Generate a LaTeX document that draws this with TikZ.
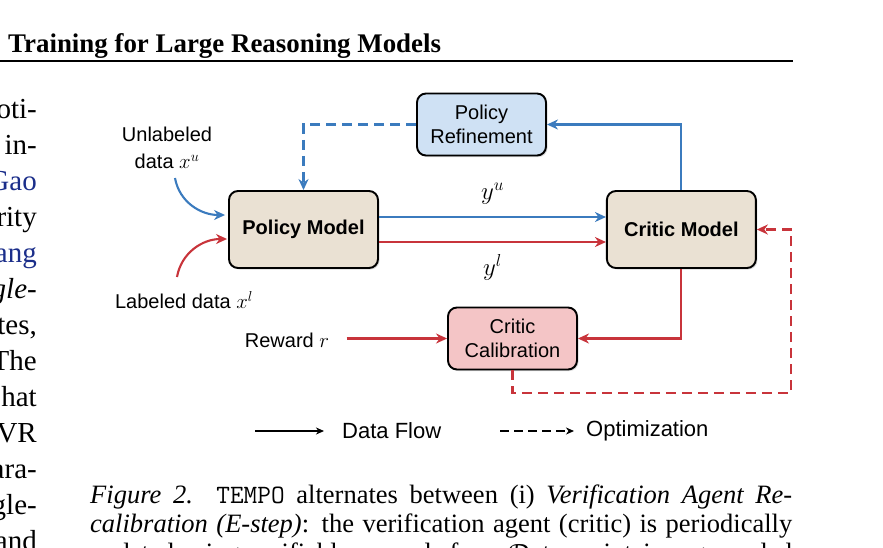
\documentclass[tikz,border=0pt]{standalone}
\usepackage{fontspec}
\setmainfont{Liberation Serif}
\setsansfont{Liberation Sans}
\usepackage{tikz}
\usetikzlibrary{arrows.meta, positioning, calc, shadows}

\definecolor{flowblue}{HTML}{3B7BBE}
\definecolor{flowred}{HTML}{C8343B}
\definecolor{modelfill}{HTML}{EAE1D3}
\definecolor{refinefill}{HTML}{CFE1F4}
\definecolor{calibfill}{HTML}{F4C5C6}
\definecolor{citeblue}{HTML}{1B2E8A}

\begin{document}
\begin{tikzpicture}[x=1pt, y=1pt,
  model/.style={rectangle, draw, line width=1.9pt, rounded corners=9pt,
                minimum width=149pt, minimum height=77pt, align=center,
                font=\sffamily\bfseries\fontsize{20}{24}\selectfont, fill=modelfill,
                drop shadow={shadow xshift=1.5pt, shadow yshift=-1.5pt, opacity=0.3}},
  stage/.style={rectangle, draw, line width=1.9pt, rounded corners=9pt,
                minimum width=129pt, minimum height=62pt, align=center,
                font=\sffamily\fontsize{20}{24}\selectfont,
                drop shadow={shadow xshift=1.5pt, shadow yshift=-1.5pt, opacity=0.3}},
  inlabel/.style={align=center, font=\sffamily\fontsize{20}{27}\selectfont},
  flowlabel/.style={font=\fontsize{23}{27}\selectfont},
  legtext/.style={anchor=west, inner sep=0pt, font=\sffamily\fontsize{22}{26}\selectfont},
  tip/.style={-{Stealth[length=11pt, width=10pt, inset=3.5pt]}},
  bluearrow/.style={tip, line width=2.1pt, draw=flowblue},
  redarrow/.style={tip, line width=2.1pt, draw=flowred},
  optdash/.style={dash pattern=on 10pt off 6pt},
  bodytext/.style={anchor=base east, inner sep=0pt, font=\fontsize{29}{36}\selectfont},
  captext/.style={anchor=base west, inner sep=0pt, font=\fontsize{26.5}{29}\selectfont}
]
\useasboundingbox (0,0) rectangle (883,-547);

%% --- page header and left column ---
\node[anchor=base west, inner sep=0pt, font=\bfseries\fontsize{26.9}{30}\selectfont]
    (header) at (8,-52) {Training for Large Reasoning Models};
\draw[line width=2.6pt] (0,-61) -- (793,-61);
\foreach \frag [count=\i from 0] in {oti-, in-, {\textcolor{citeblue}{Gao}}, rity,
    {\textcolor{citeblue}{ang}}, {\textit{gle-}}, {tes,}, The, hat, VR, ara-, gle-, and}
  \node[bodytext] (frag\i) at (37,{-118-36*\i}) {\frag};

%% --- boxes ---
\node[model] (policy) at (303.5,-229.5) {Policy Model};
\node[model, right=227pt of policy] (critic) {Critic Model};
\node[stage, fill=refinefill] (refine) at (481.5,-124.5) {Policy\\Refinement};
\node[stage, fill=calibfill] (calib) at (512.5,-338.5) {Critic\\Calibration};

%% --- inputs (left) ---
\node[inlabel] (unlab) at (167,-148) {Unlabeled\\data $x^u$};
\node[inlabel] (lab) at (184,-300) {Labeled data $x^l$};
\node[inlabel] (reward) at (287,-340) {Reward $r$};
\coordinate (ustart) at (175,-178);
\coordinate (lstart) at (177,-277);

\draw[bluearrow] (ustart) to[out=-80, in=180] ($(policy.west)+(-3,14.5)$);
\draw[redarrow] (lstart) to[out=80, in=180] ($(policy.west)+(-1,-9.5)$);

%% --- Policy Model -> Critic Model ---
\draw[bluearrow] ($(policy.east)+(0,12.5)$) -- node[above=8pt, flowlabel]{$y^u$}
    ($(critic.west)+(0,12.5)$);
\draw[redarrow] ($(policy.east)+(0,-12.5)$) -- node[below=8pt, flowlabel]{$y^l$}
    ($(critic.west)+(0,-12.5)$);

%% --- Critic Model -> refinement / calibration ---
\draw[bluearrow] (critic.north) |- (refine.east);
\draw[redarrow] (critic.south) |- (calib.east);
\draw[redarrow, shorten <=14pt] (reward.east |- calib.west) -- (calib.west);

%% --- optimization loops (dashed) ---
\draw[bluearrow, optdash] (refine.west) -| (policy.north);
\coordinate (optcorner) at (791,-393);
\draw[redarrow, optdash] (calib.south) |- (optcorner) |- (critic.east);

%% --- legend ---
\coordinate (solidA) at (255,-431);
\coordinate (solidB) at (324,-431);
\coordinate (dashA) at (500,-431);
\coordinate (dashB) at (574,-431);
\draw[-{Stealth[length=8pt, width=7pt, inset=2.5pt]}, line width=1.5pt] (solidA) -- (solidB);
\node[legtext, right=18pt of solidB] (legflow) {Data Flow};
\draw[-{Stealth[length=8pt, width=7pt, inset=2.5pt]}, line width=1.5pt, dash pattern=on 9pt off 5pt]
    (dashA) -- (dashB);
\node[legtext, right=12pt of dashB] (legopt) {Optimization};

%% --- caption ---
\node[captext] (cap1) at (90,-503) {\makebox[702pt][s]{\textit{Figure 2.}\ \ {\ttfamily TEMPO}
    alternates between (i) \textit{Verification Agent Re-}}};
\node[captext] (cap2) at (90,-532) {\makebox[702pt][s]{\textit{calibration (E-step)}: the
    verification agent (critic) is periodically}};
\node[captext] (cap3) at (90,-561) {\makebox[702pt][s]{updated using verifiable rewards
    from $\mathcal{D}_l$ to maintain a grounded}};
\end{tikzpicture}
\end{document}
